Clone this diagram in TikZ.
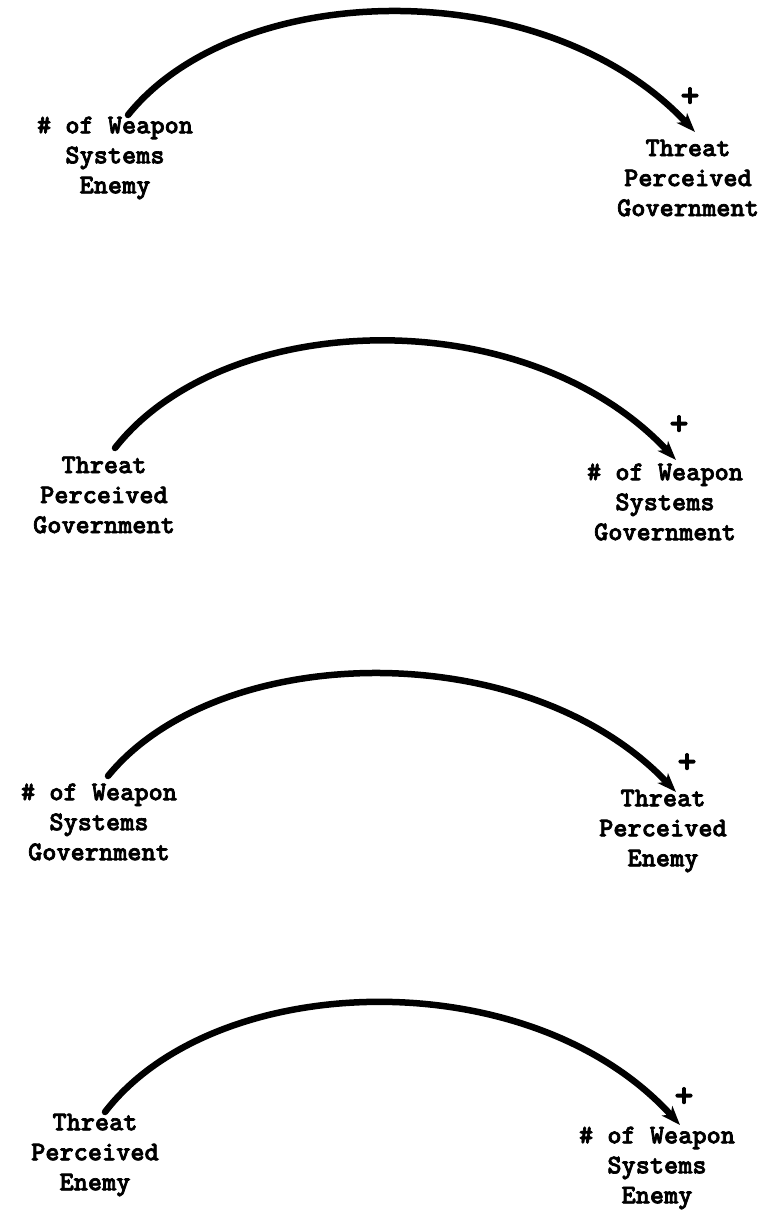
\documentclass[tikz,border=0pt]{standalone}
\usepackage{fontspec}
\newfontfamily\twfont{lmmonolt10-bold.otf}[FakeBold=2.5]
\usetikzlibrary{arrows.meta}
\tikzset{
  lbl/.style={font=\twfont\fontsize{27}{30}\selectfont, align=center, inner sep=0pt},
  plus/.style={font=\twfont\fontsize{36}{36}\selectfont, inner sep=0pt},
  link/.style={line width=6.5pt, line cap=round, -{Stealth[length=19pt,width=14pt,inset=5pt]}}
}
\begin{document}
\begin{tikzpicture}[x=1pt,y=-1pt]
\fill[white] (0,0) rectangle (764,1215);
\useasboundingbox (0,0) rectangle (764,1215);

% panel 1
\node[lbl] (L1) at (115,158) {\# of Weapon\\Systems\\Enemy};
\node[lbl] (R1) at (688,178) {Threat\\Perceived\\Government};
\node[plus] (P1) at (690,97) {+};
\coordinate (s1) at (128,115);
\coordinate (e1) at (695,132);
\draw[link] (s1) .. controls +(110,-137) and +(-150,-160) .. (e1);

% panel 2
\node[lbl] (L2) at (104,495) {Threat\\Perceived\\Government};
\node[lbl] (R2) at (665,502) {\# of Weapon\\Systems\\Government};
\node[plus] (P2) at (679,425) {+};
\coordinate (s2) at (115,448);
\coordinate (e2) at (676,460);
\draw[link] (s2) .. controls +(110,-140) and +(-150,-160) .. (e2);

% panel 3
\node[lbl] (L3) at (99,822) {\# of Weapon\\Systems\\Government};
\node[lbl] (R3) at (663,831) {Threat\\Perceived\\Enemy};
\node[plus] (P3) at (687,763) {+};
\coordinate (s3) at (108,776);
\coordinate (e3) at (676,792);
\draw[link] (s3) .. controls +(110,-135) and +(-150,-158) .. (e3);

% panel 4
\node[lbl] (L4) at (95,1155) {Threat\\Perceived\\Enemy};
\node[lbl] (R4) at (657,1168) {\# of Weapon\\Systems\\Enemy};
\node[plus] (P4) at (684,1097) {+};
\coordinate (s4) at (105,1112);
\coordinate (e4) at (680,1125);
\draw[link] (s4) .. controls +(110,-143) and +(-150,-165) .. (e4);
\end{tikzpicture}
\end{document}
